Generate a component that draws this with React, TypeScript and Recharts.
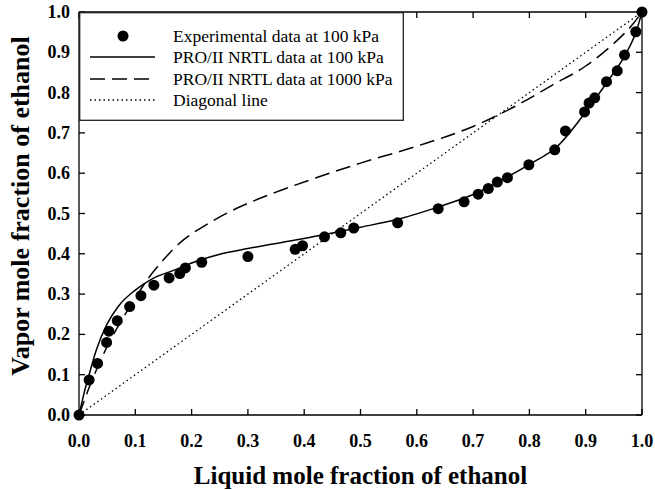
import React from 'react';
import { ComposedChart, Line, Scatter, XAxis, YAxis, Legend, Label } from 'recharts';

// experimental VLE points at 100 kPa (liquid x, vapor y)
const experimentalData = [
  { x: 0.0, y: 0.0 },
  { x: 0.018, y: 0.087 },
  { x: 0.033, y: 0.128 },
  { x: 0.049, y: 0.18 },
  { x: 0.053, y: 0.208 },
  { x: 0.068, y: 0.234 },
  { x: 0.09, y: 0.269 },
  { x: 0.11, y: 0.296 },
  { x: 0.133, y: 0.322 },
  { x: 0.16, y: 0.34 },
  { x: 0.179, y: 0.351 },
  { x: 0.189, y: 0.365 },
  { x: 0.218, y: 0.379 },
  { x: 0.3, y: 0.393 },
  { x: 0.384, y: 0.411 },
  { x: 0.397, y: 0.42 },
  { x: 0.436, y: 0.442 },
  { x: 0.465, y: 0.452 },
  { x: 0.488, y: 0.464 },
  { x: 0.566, y: 0.477 },
  { x: 0.638, y: 0.512 },
  { x: 0.684, y: 0.529 },
  { x: 0.709, y: 0.548 },
  { x: 0.727, y: 0.562 },
  { x: 0.743, y: 0.578 },
  { x: 0.761, y: 0.589 },
  { x: 0.799, y: 0.621 },
  { x: 0.845, y: 0.658 },
  { x: 0.864, y: 0.705 },
  { x: 0.898, y: 0.752 },
  { x: 0.906, y: 0.774 },
  { x: 0.916, y: 0.787 },
  { x: 0.937, y: 0.827 },
  { x: 0.956, y: 0.854 },
  { x: 0.969, y: 0.893 },
  { x: 0.989, y: 0.951 },
  { x: 1.0, y: 1.0 },
];

// PRO/II NRTL curve, 100 kPa
const nrtl100Data = [
  { x: 0.0, y: 0.0 },
  { x: 0.01, y: 0.06 },
  { x: 0.02, y: 0.11 },
  { x: 0.03, y: 0.158 },
  { x: 0.05, y: 0.226 },
  { x: 0.07, y: 0.27 },
  { x: 0.1, y: 0.31 },
  { x: 0.13, y: 0.338 },
  { x: 0.17, y: 0.36 },
  { x: 0.21, y: 0.382 },
  { x: 0.25, y: 0.399 },
  { x: 0.3, y: 0.413 },
  { x: 0.36, y: 0.428 },
  { x: 0.43, y: 0.446 },
  { x: 0.5, y: 0.466 },
  { x: 0.57, y: 0.487 },
  { x: 0.64, y: 0.517 },
  { x: 0.7, y: 0.547 },
  { x: 0.76, y: 0.59 },
  { x: 0.8, y: 0.622 },
  { x: 0.85, y: 0.667 },
  { x: 0.9, y: 0.752 },
  { x: 0.94, y: 0.83 },
  { x: 0.97, y: 0.893 },
  { x: 0.99, y: 0.953 },
  { x: 1.0, y: 1.0 },
];

// PRO/II NRTL curve, 1000 kPa
const nrtl1000Data = [
  { x: 0.0, y: 0.0 },
  { x: 0.02, y: 0.075 },
  { x: 0.05, y: 0.17 },
  { x: 0.08, y: 0.245 },
  { x: 0.1, y: 0.29 },
  { x: 0.12, y: 0.333 },
  { x: 0.15, y: 0.385 },
  { x: 0.185, y: 0.434 },
  { x: 0.22, y: 0.467 },
  { x: 0.27, y: 0.506 },
  { x: 0.35, y: 0.553 },
  { x: 0.42, y: 0.588 },
  { x: 0.5, y: 0.625 },
  { x: 0.6, y: 0.667 },
  { x: 0.7, y: 0.716 },
  { x: 0.78, y: 0.77 },
  { x: 0.84, y: 0.818 },
  { x: 0.9, y: 0.866 },
  { x: 0.95, y: 0.922 },
  { x: 0.985, y: 0.972 },
  { x: 1.0, y: 1.0 },
];

const diagonalData = [
  { x: 0.0, y: 0.0 },
  { x: 1.0, y: 1.0 },
];

const axisTicks = [0, 0.1, 0.2, 0.3, 0.4, 0.5, 0.6, 0.7, 0.8, 0.9, 1.0];

const seriesNames = [
  'Experimental data at 100 kPa',
  'PRO/II NRTL data at 100 kPa',
  'PRO/II NRTL data at 1000 kPa',
  'Diagonal line',
];

const FONT = '"Liberation Serif", "Times New Roman", serif';
const axisStroke = { stroke: '#000', strokeWidth: 1.3 };
const TICK_LEN = 6;

const fmt = (v: number) => v.toFixed(1);

// inward tick mark + label below the bottom axis (p.y = axis + 20)
const bottomTick = (p: any) => (
  <g>
    <line x1={p.x} x2={p.x} y1={p.y - 20} y2={p.y - 20 - TICK_LEN} stroke="#000" strokeWidth={1.3} />
    <text x={p.x} y={p.y + 12} textAnchor="middle" fontFamily={FONT} fontSize={18} fontWeight="bold" fill="#000">
      {fmt(p.payload.value)}
    </text>
  </g>
);

// inward tick mark + label left of the left axis (p.x = axis - 9)
const leftTick = (p: any) => (
  <g>
    <line x1={p.x + 9} x2={p.x + 9 + TICK_LEN} y1={p.y} y2={p.y} stroke="#000" strokeWidth={1.3} />
    <text x={p.x} y={p.y + 6} textAnchor="end" fontFamily={FONT} fontSize={18} fontWeight="bold" fill="#000">
      {fmt(p.payload.value)}
    </text>
  </g>
);

const topTick = (p: any) => (
  <line x1={p.x} x2={p.x} y1={p.y} y2={p.y + TICK_LEN} stroke="#000" strokeWidth={1.3} />
);

const rightTick = (p: any) => (
  <line x1={p.x} x2={p.x - TICK_LEN} y1={p.y} y2={p.y} stroke="#000" strokeWidth={1.3} />
);

function LegendBox() {
  const rowY = [24, 45, 67, 88];
  return (
    <svg width={325} height={109} style={{ display: 'block' }}>
      <rect x={0.7} y={0.7} width={323.6} height={107.6} fill="#fff" stroke="#222" strokeWidth={1.3} />
      <circle cx={44} cy={rowY[0]} r={5.5} fill="#000" />
      <line x1={11} x2={76} y1={rowY[1]} y2={rowY[1]} stroke="#000" strokeWidth={1.5} />
      <line x1={11} x2={76} y1={rowY[2]} y2={rowY[2]} stroke="#000" strokeWidth={1.5} strokeDasharray="15 7" />
      <line x1={11} x2={76} y1={rowY[3]} y2={rowY[3]} stroke="#000" strokeWidth={1.3} strokeDasharray="1.5 3" />
      {seriesNames.map((name, i) => (
        <text key={name} x={94} y={rowY[i] + 6} fontFamily={FONT} fontSize={17.5} fill="#000">
          {name}
        </text>
      ))}
    </svg>
  );
}

export default function App() {
  return (
    <div style={{ position: 'absolute', left: 0, top: 0, width: 655, height: 490, background: '#fff' }}>
      <ComposedChart width={655} height={490} margin={{ top: 11, right: 12, left: 0, bottom: 0 }}>
        <XAxis
          xAxisId="b"
          dataKey="x"
          type="number"
          domain={[0, 1]}
          ticks={axisTicks}
          interval={0}
          orientation="bottom"
          height={75}
          tickSize={0}
          tickMargin={20}
          tick={bottomTick}
          axisLine={axisStroke}
          tickLine={false}
        >
          <Label
            content={({ viewBox }: any) => (
              <text
                x={viewBox.x + viewBox.width / 2}
                y={484}
                textAnchor="middle"
                fontFamily={FONT}
                fontSize={25}
                fontWeight="bold"
                fill="#000"
              >
                Liquid mole fraction of ethanol
              </text>
            )}
          />
        </XAxis>
        {/* top/right axes only draw the frame and inward ticks; they need a size > 0 to render */}
        <XAxis
          xAxisId="t"
          dataKey="x"
          type="number"
          domain={[0, 1]}
          ticks={axisTicks}
          interval={0}
          orientation="top"
          height={1}
          tickSize={0}
          tickMargin={0}
          tick={topTick}
          axisLine={axisStroke}
          tickLine={false}
        />
        <YAxis
          yAxisId="l"
          dataKey="y"
          type="number"
          domain={[0, 1]}
          ticks={axisTicks}
          interval={0}
          orientation="left"
          width={79}
          tickSize={0}
          tickMargin={9}
          tick={leftTick}
          axisLine={axisStroke}
          tickLine={false}
        >
          <Label
            content={() => (
              <text
                x={20}
                y={206}
                transform="rotate(-90 20 206)"
                textAnchor="middle"
                dominantBaseline="central"
                fontFamily={FONT}
                fontSize={26}
                fontWeight="bold"
                fill="#000"
              >
                Vapor mole fraction of ethanol
              </text>
            )}
          />
        </YAxis>
        <YAxis
          yAxisId="r"
          dataKey="y"
          type="number"
          domain={[0, 1]}
          ticks={axisTicks}
          interval={0}
          orientation="right"
          width={1}
          tickSize={0}
          tickMargin={0}
          tick={rightTick}
          axisLine={axisStroke}
          tickLine={false}
        />
        <Line
          xAxisId="t"
          yAxisId="r"
          data={diagonalData}
          dataKey="y"
          type="linear"
          stroke="#000"
          strokeWidth={1.3}
          strokeDasharray="1.5 3"
          dot={false}
          activeDot={false}
          isAnimationActive={false}
          name={seriesNames[3]}
        />
        <Line
          xAxisId="b"
          yAxisId="l"
          data={nrtl1000Data}
          dataKey="y"
          type="monotone"
          stroke="#000"
          strokeWidth={1.5}
          strokeDasharray="15 7"
          dot={false}
          activeDot={false}
          isAnimationActive={false}
          name={seriesNames[2]}
        />
        <Line
          xAxisId="b"
          yAxisId="l"
          data={nrtl100Data}
          dataKey="y"
          type="monotone"
          stroke="#000"
          strokeWidth={1.5}
          dot={false}
          activeDot={false}
          isAnimationActive={false}
          name={seriesNames[1]}
        />
        <Scatter
          xAxisId="b"
          yAxisId="l"
          data={experimentalData}
          dataKey="y"
          isAnimationActive={false}
          name={seriesNames[0]}
          shape={(p: any) => <circle cx={p.cx} cy={p.cy} r={5.5} fill="#000" />}
        />
        <Legend
          layout="vertical"
          align="center"
          verticalAlign="middle"
          wrapperStyle={{ left: 79, top: 12, width: 325, height: 109 }}
          content={() => <LegendBox />}
        />
      </ComposedChart>
    </div>
  );
}
